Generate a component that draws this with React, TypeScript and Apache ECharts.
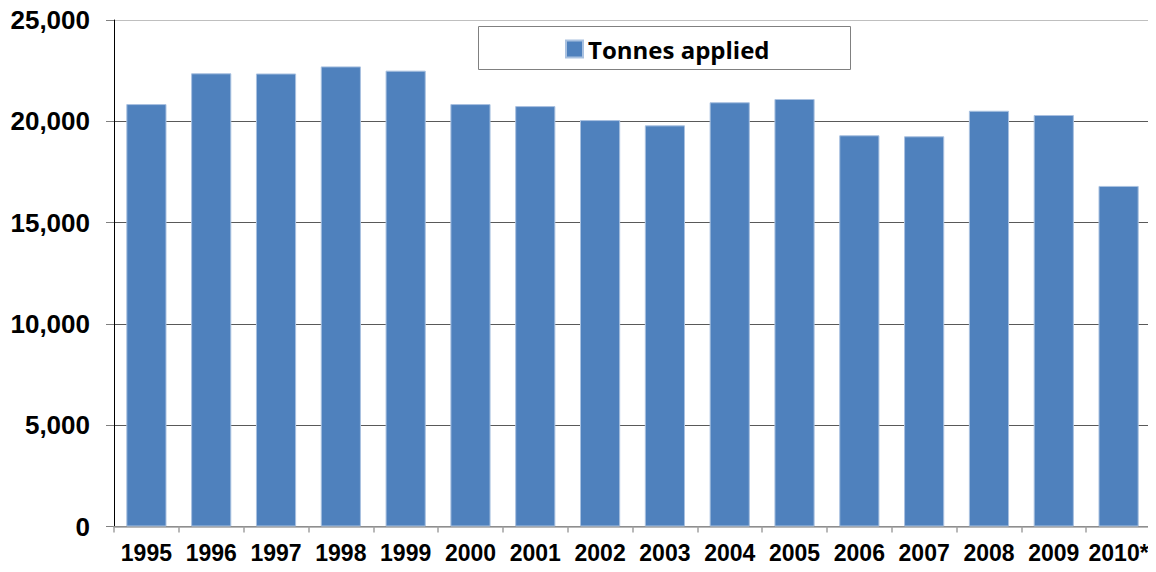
import React, { useEffect, useRef } from "react";
import * as echarts from "echarts";

const categories = ["1995", "1996", "1997", "1998", "1999", "2000", "2001", "2002", "2003", "2004", "2005", "2006", "2007", "2008", "2009", "2010*"];
const tonnesApplied = [20850, 22370, 22360, 22710, 22500, 20850, 20750, 20060, 19800, 20940, 21100, 19310, 19260, 20520, 20310, 16810];
const seriesName = "Tonnes applied";

export default function App() {
  const ref = useRef<HTMLDivElement>(null);
  useEffect(() => {
    const chart = echarts.init(ref.current!, null, { renderer: "svg" });
    chart.setOption({
      animation: false,
      grid: { left: 114, right: 5, top: 20, bottom: 45.5, containLabel: false },
      graphic: [
        {
          type: "rect",
          shape: { x: 478.5, y: 26.5, width: 372, height: 43 },
          style: { fill: "#fff", stroke: "#808080", lineWidth: 1 },
          z: 10,
        },
      ],
      legend: {
        data: [seriesName],
        left: 560,
        top: 32,
        itemWidth: 17,
        itemHeight: 17,
        itemGap: 7,
        icon: "rect",
        z: 20,
        textStyle: { fontFamily: "Open Sans", fontWeight: "bold", fontSize: 24, color: "#000" },
      },
      xAxis: {
        type: "category",
        data: categories,
        axisLine: { lineStyle: { color: "#a0a0a0", width: 1.5 } },
        axisTick: { show: true, length: 6, lineStyle: { color: "#a0a0a0", width: 1.5 } },
        axisLabel: {
          fontFamily: "Liberation Sans",
          fontWeight: "bold",
          fontSize: 23,
          color: "#000",
          margin: 15,
          interval: 0,
        },
      },
      yAxis: {
        type: "value",
        min: 0,
        max: 25000,
        interval: 5000,
        axisLine: { show: true, lineStyle: { color: "#000", width: 1 } },
        axisTick: { show: true, length: 8, lineStyle: { color: "#808080" } },
        splitLine: {
          show: true,
          lineStyle: { color: ["#595959", "#595959", "#595959", "#595959", "#595959", "#bfbfbf"], width: 1 },
        },
        axisLabel: {
          fontFamily: "Liberation Sans",
          fontWeight: "bold",
          fontSize: 26,
          color: "#000",
          margin: 24,
          formatter: (v: number) => v.toLocaleString("en-US"),
        },
      },
      series: [
        {
          name: seriesName,
          type: "bar",
          data: tonnesApplied,
          barCategoryGap: "38%",
          itemStyle: { color: "#4f81bd", borderColor: "#a9c1e0", borderWidth: 1 },
        },
      ],
    });
    return () => chart.dispose();
  }, []);
  return <div ref={ref} style={{ width: 1156, height: 572, margin: -8 }} />;
}
